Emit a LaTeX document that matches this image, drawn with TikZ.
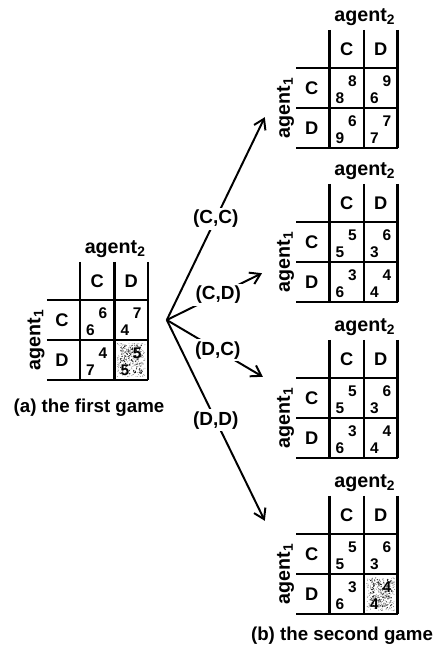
\documentclass[tikz,border=0pt]{standalone}
\usepackage{fontspec}
\setmainfont{Liberation Sans}
\usetikzlibrary{arrows.meta}

\begin{document}
\begin{tikzpicture}
    [
        tabline/.style={line width=1.6pt},
        agent/.style={font=\bfseries\fontsize{14}{14}\selectfont, inner sep=0pt},
        act/.style={font=\bfseries\fontsize{13}{13}\selectfont, inner sep=0pt},
        pay/.style={font=\bfseries\fontsize{11}{11}\selectfont, inner sep=0pt},
        move/.style={fill=white, inner sep=1.5pt, font=\bfseries\fontsize{13.5}{13.5}\selectfont},
        branch/.style={line width=1.4pt, -{Straight Barb[length=7pt,width=9pt]}},
        caption/.style={font=\bfseries\fontsize{13.3}{13.3}\selectfont}
    ]
    \useasboundingbox (0,0) rectangle (10.925,16.25);
    % noisy (D,D) cells of the first game and of the last second game
    \pgfmathsetseed{11}
    \foreach \sx/\sy in {2.86/7.75, 9.1/1.9}
    {
        \foreach \i in {1,...,260}
            \fill[black!55] ({\sx+0.07+0.7*rnd},{\sy-0.08-0.84*rnd}) circle (0.3pt);
        \foreach \i in {1,...,110}
            \fill[black!90] ({\sx+0.15+0.55*rnd},{\sy-0.12-0.72*rnd}) circle (0.45pt);
    }
    % payoff tables: name / left / top / upper and lower payoff of CC, CD, DC, DD
    \foreach \nm/\x/\y/\ua/\la/\ub/\lb/\uc/\lc/\ud/\ld in
        {g1/2.0/9.7/6/6/7/4/4/7/5/5,
         gcc/8.24/15.5/8/8/9/6/6/9/7/7,
         gcd/8.24/11.65/5/5/6/3/3/6/4/4,
         gdc/8.24/7.75/5/5/6/3/3/6/4/4,
         gdd/8.24/3.85/5/5/6/3/3/6/4/4}
    {
        \begin{scope}[shift={(\x,\y)}]
            \draw[tabline] (0,0) -- (0,-2.95) (0.86,0) -- (0.86,-2.95) (1.7,0) -- (1.7,-2.95);
            \draw[tabline] (-0.83,-0.95) -- (1.7,-0.95) (-0.83,-1.95) -- (1.7,-1.95)
                (-0.83,-2.95) -- (1.7,-2.95);
            \node[agent] (\nm-a2) at (0.88,0.33) {agent\textsubscript{2}};
            \node[agent, rotate=90] (\nm-a1) at (-1.1,-1.95) {agent\textsubscript{1}};
            \node[act] (\nm-c2) at (0.43,-0.475) {C};
            \node[act] (\nm-d2) at (1.28,-0.475) {D};
            \node[act] (\nm-c1) at (-0.45,-1.45) {C};
            \node[act] (\nm-d1) at (-0.45,-2.45) {D};
            \node[pay] (\nm-cc-u) at (0.57,-1.27) {\ua};
            \node[pay] (\nm-cc-l) at (0.26,-1.71) {\la};
            \node[pay] (\nm-cd-u) at (1.43,-1.27) {\ub};
            \node[pay] (\nm-cd-l) at (1.12,-1.71) {\lb};
            \node[pay] (\nm-dc-u) at (0.57,-2.27) {\uc};
            \node[pay] (\nm-dc-l) at (0.26,-2.71) {\lc};
            \node[pay] (\nm-dd-u) at (1.43,-2.27) {\ud};
            \node[pay] (\nm-dd-l) at (1.12,-2.71) {\ld};
        \end{scope}
    }
    % captions
    \node[caption] (capa) at (2.225,6.05) {(a) the first game};
    \node[caption] (capb) at (8.55,0.35) {(b) the second game};
    % branches
    \coordinate (root) at (4.17,8.25);
    \coordinate (tipcc) at (6.62,13.32);
    \coordinate (tipcd) at (6.55,9.42);
    \coordinate (tipdc) at (6.57,6.83);
    \coordinate (tipdd) at (6.62,3.23);
    \draw[branch] (root) -- node[move] (lcc) {(C,C)} (tipcc);
    \draw[branch] (root) -- node[move, pos=0.54] (lcd) {(C,D)} (tipcd);
    \draw[branch] (root) -- node[move, pos=0.53] (ldc) {(D,C)} (tipdc);
    \draw[branch] (root) -- node[move] (ldd) {(D,D)} (tipdd);
\end{tikzpicture}
\end{document}
